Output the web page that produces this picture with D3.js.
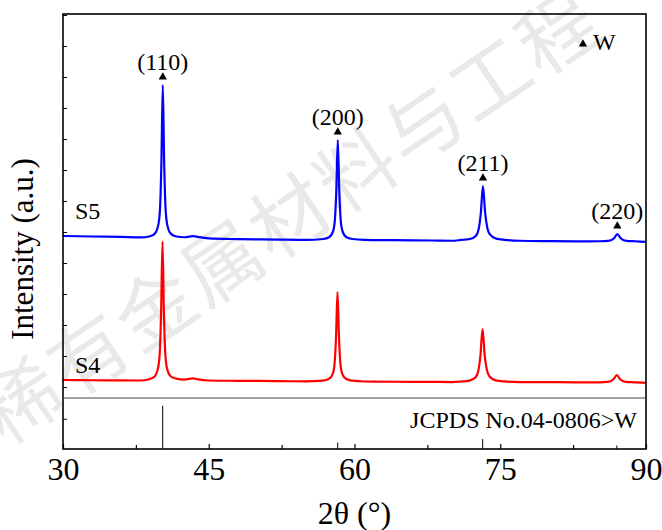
<!DOCTYPE html>
<html>
<head>
<meta charset="utf-8">
<script src="https://cdn.jsdelivr.net/npm/d3@7"></script>
<style>
body { margin: 0; background: #fff; }
text { font-family: "Liberation Serif", "Times New Roman", "DejaVu Serif", serif; }
</style>
</head>
<body>
<script>
// XRD patterns, [2theta, intensity (a.u.)]
var s5Data = [[30,4871],[33,4855],[36,4840],[38,4828],
  [38.87,4856],[39.43,4940],[39.82,5246],[39.99,5794],[40.13,7275],[40.27,9742],[40.41,7275],[40.55,5794],[40.72,5246],[41.11,4940],[41.67,4856],
  [42.5,4830],[43.0,4850],[43.4,4868],[43.9,4840],[45,4795],[48,4770],[52,4755],[55,4745],
  [56.78,4774],[57.38,4829],[57.80,5029],[57.98,5387],[58.13,6355],[58.28,7968],[58.43,6355],[58.58,5387],[58.76,5029],[59.18,4829],[59.78,4774],
  [61,4745],[64,4735],[68,4725],[70,4718],
  [70.97,4744],[71.87,4773],[72.50,4882],[72.77,5078],[73.00,5605],[73.22,6484],[73.45,5605],[73.67,5130],[73.94,4920],[74.57,4785],[75.47,4748],
  [77,4718],[80,4705],[83,4698],
  [85.25,4701],[86.09,4716],[86.45,4742],[86.75,4815],[87.05,4936],[87.35,4815],[87.65,4742],[88.01,4716],[88.85,4701],[90,4680]];

var s4Data = [[30,226],[33,218],[36,212],[38,210],
  [38.84,250],[39.40,330],[39.79,624],[39.96,1120],[40.10,2460],[40.24,4694],[40.38,2460],[40.52,1120],[40.69,624],[41.08,347],[41.64,271],
  [42.5,240],[43.0,262],[43.4,278],[43.9,245],[45,210],[48,200],[52,190],[55,182],
  [56.75,206],[57.35,255],[57.77,434],[57.95,755],[58.10,1621],[58.25,3065],[58.40,1621],[58.55,755],[58.73,434],[59.15,255],[59.75,206],
  [61,178],[64,170],[68,164],[70,160],
  [70.93,178],[71.83,207],[72.46,313],[72.73,503],[72.96,1016],[73.18,1871],[73.40,1016],[73.63,540],[73.90,340],[74.53,215],[75.43,180],
  [77,160],[80,157],[83,152],
  [85.2,152],[86.04,167],[86.4,193],[86.7,266],[87.0,387],[87.3,266],[87.6,193],[87.96,167],[88.8,152],[90,135]];

// W reflections
var peakPos = [40.27, 58.28, 73.22, 87.05];
var peakTop = [9742, 7968, 6484, 4936];
var peakLabels = ["(110)", "(200)", "(211)", "(220)"];

// JCPDS No.04-0806 W card
var refPos = [40.26, 58.27, 73.19, 87.0];
var refInt = [100, 15, 23, 8];

var xTicks = [30, 45, 60, 75, 90];
var xMinor = [37.5, 52.5, 67.5, 82.5];
var yTicks = d3.range(0, 12001, 1000);

var width = 662, height = 530;
var margin = {left: 63, right: 16, top: 14, bottom: 81};
var x0 = margin.left, x1 = width - margin.right;
var yTop = margin.top, yMid = 398, yBot = height - margin.bottom;
var serif = "'Liberation Serif', 'Times New Roman', 'DejaVu Serif', serif";

var svg = d3.select("body").append("svg")
  .attr("width", width)
  .attr("height", height);

// watermark
var wm = "稀有金属材料与工程".split("");
svg.append("g").selectAll("text")
  .data(wm).enter().append("text")
  .attr("transform", function(d, i) {
    return "translate(" + (22 + 67 * i) + "," + (402 - 46 * i) + ") rotate(-34)";
  })
  .attr("text-anchor", "middle")
  .attr("dy", "0.35em")
  .style("font-family", "'Noto Sans CJK SC', sans-serif")
  .style("font-size", "78px")
  .style("fill", "#e9e9e9")
  .text(function(d) { return d; });

var x = d3.scaleLinear().domain([30, 90]).range([x0, x1]);
var y = d3.scaleLinear().domain([-355, 12032]).range([yMid, yTop]);
var yRef = d3.scaleLinear().domain([0, 118]).range([yBot, yMid]);

var line = d3.line()
  .x(function(d) { return x(d[0]); })
  .y(function(d) { return y(d[1]); })
  .curve(d3.curveMonotoneX);

svg.append("path").datum(s4Data)
  .attr("d", line)
  .attr("fill", "none")
  .attr("stroke", "#ff0000")
  .attr("stroke-width", 2.2);

svg.append("path").datum(s5Data)
  .attr("d", line)
  .attr("fill", "none")
  .attr("stroke", "#0000ff")
  .attr("stroke-width", 2.2);

// reference sticks
svg.selectAll(".ref")
  .data(refPos).enter().append("line")
  .attr("x1", function(d) { return x(d); })
  .attr("x2", function(d) { return x(d); })
  .attr("y1", yRef(0))
  .attr("y2", function(d, i) { return yRef(refInt[i]); })
  .attr("stroke", "#000")
  .attr("stroke-width", 1);

// peak markers
var tri = d3.symbol().type(d3.symbolTriangle).size(30);
svg.selectAll(".tri")
  .data(peakPos).enter().append("path")
  .attr("d", tri)
  .attr("transform", function(d, i) { return "translate(" + x(d) + "," + (y(peakTop[i]) - 8) + ")"; })
  .attr("fill", "#000");

svg.selectAll(".plab")
  .data(peakLabels).enter().append("text")
  .attr("x", function(d, i) { return x(peakPos[i]); })
  .attr("y", function(d, i) { return y(peakTop[i]) - 15; })
  .attr("text-anchor", "middle")
  .style("font-family", serif)
  .style("font-size", "24px")
  .text(function(d) { return d; });

// series labels
svg.append("text").attr("x", 75).attr("y", 219).style("font-family", serif).style("font-size", "24px").text("S5");
svg.append("text").attr("x", 75).attr("y", 373).style("font-family", serif).style("font-size", "24px").text("S4");

// legend
svg.append("path").attr("d", tri).attr("transform", "translate(583,44)").attr("fill", "#000");
svg.append("text").attr("x", 593).attr("y", 50).style("font-family", serif).style("font-size", "24px").text("W");

svg.append("text").attr("x", 637).attr("y", 428).attr("text-anchor", "end")
  .style("font-family", serif)
  .style("font-size", "24px").text("JCPDS No.04-0806>W");

// axes
svg.append("g")
  .attr("transform", "translate(0," + yBot + ")")
  .call(d3.axisBottom(x).tickValues(xTicks).tickSizeInner(-5).tickSizeOuter(0).tickPadding(8))
  .call(function(g) {
    g.select(".domain").remove();
    g.attr("font-family", null);
    g.selectAll("text").style("font-size", "32px").style("font-family", serif).attr("fill", "#000");
    g.selectAll("line").attr("stroke-width", 1.2);
  });

svg.append("g")
  .attr("transform", "translate(0," + yBot + ")")
  .call(d3.axisBottom(x).tickValues(xMinor).tickSize(-4).tickFormat(""))
  .call(function(g) { g.select(".domain").remove(); g.selectAll("line").attr("stroke-width", 1.2); });

svg.append("g")
  .attr("transform", "translate(" + x0 + ",0)")
  .call(d3.axisLeft(y).tickValues(yTicks).tickSize(-4).tickFormat(""))
  .call(function(g) { g.select(".domain").remove(); });

svg.append("g")
  .attr("transform", "translate(" + x0 + ",0)")
  .call(d3.axisLeft(yRef).tickValues([70]).tickSize(-4).tickFormat(""))
  .call(function(g) { g.select(".domain").remove(); });

// frame
svg.append("rect")
  .attr("x", x0).attr("y", yTop)
  .attr("width", x1 - x0).attr("height", yBot - yTop)
  .attr("fill", "none").attr("stroke", "#000").attr("stroke-width", 1.6);

svg.append("line")
  .attr("x1", x0).attr("x2", x1).attr("y1", yMid).attr("y2", yMid)
  .attr("stroke", "#444").attr("stroke-width", 1.2);

// axis titles
svg.append("text")
  .attr("x", (x0 + x1) / 2).attr("y", 524)
  .attr("text-anchor", "middle")
  .style("font-family", serif)
  .style("font-size", "32px")
  .text("2θ (°)");

svg.append("text")
  .attr("transform", "translate(33,249) rotate(-90)")
  .attr("text-anchor", "middle")
  .style("font-family", serif)
  .style("font-size", "31px")
  .text("Intensity (a.u.)");
</script>
</body>
</html>
